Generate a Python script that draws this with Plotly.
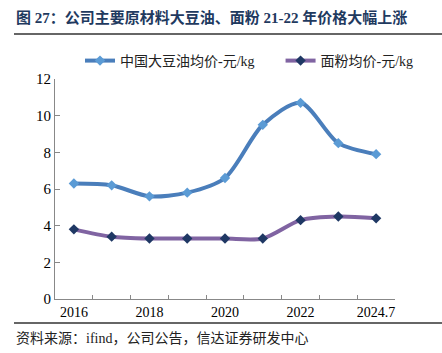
import plotly.graph_objects as go

categories = ["2016", "2017", "2018", "2019", "2020", "2021", "2022", "2023", "2024.7"]
tick_labels = ["2016", "", "2018", "", "2020", "", "2022", "", "2024.7"]
soybean_oil = [6.3, 6.2, 5.6, 5.8, 6.6, 9.5, 10.7, 8.5, 7.9]
flour = [3.8, 3.4, 3.3, 3.3, 3.3, 3.3, 4.3, 4.5, 4.4]
series_names = ["中国大豆油均价-元/kg", "面粉均价-元/kg"]

serif = "Liberation Serif, Noto Sans CJK SC"

W, H = 442, 353
l, r, t, b = 55, 47, 79, 54
pw, ph = W - l - r, H - t - b


def px(x):
    return (x - l) / pw


def py(y):
    return (H - b - y) / ph


fig = go.Figure()
fig.add_trace(go.Scatter(
    x=categories, y=soybean_oil, name=series_names[0] + "\u00a0" * 6,
    mode="lines+markers", line=dict(color="#4A7EBB", width=4, shape="spline", smoothing=0.8),
    marker=dict(symbol="diamond", size=8, color="#5B9BD5"),
))
fig.add_trace(go.Scatter(
    x=categories, y=flour, name=series_names[1],
    mode="lines+markers", line=dict(color="#8064A2", width=4, shape="spline", smoothing=0.8),
    marker=dict(symbol="diamond", size=8, color="#1F3864"),
))

fig.update_layout(
    width=W, height=H,
    margin=dict(l=l, r=r, t=t, b=b),
    paper_bgcolor="white", plot_bgcolor="white",
    font=dict(family=serif, size=14, color="#000000"),
    showlegend=True,
    legend=dict(orientation="h", x=px(80), y=py(45), xref="paper", yref="paper",
                xanchor="left", yanchor="top", font=dict(family=serif, size=14, color="#222"),
                bgcolor="rgba(0,0,0,0)", itemwidth=30, tracegroupgap=0),
    xaxis=dict(
        type="category", tickmode="array", tickvals=categories, ticktext=tick_labels,
        tickson="boundaries", ticks="inside", ticklen=4, tickcolor="#888", tickangle=0,
        showline=True, linecolor="#888", linewidth=1, showgrid=False,
        tickfont=dict(family=serif, size=14), range=[-0.5, 8.5],
    ),
    yaxis=dict(
        range=[0, 12], dtick=2, ticks="inside", ticklen=5, tickcolor="#888",
        showline=True, linecolor="#888", linewidth=1, showgrid=False, zeroline=False,
        tickfont=dict(family=serif, size=15),
    ),
)
fig.add_annotation(text="<b>图 27：公司主要原材料大豆油、面粉 21-22 年价格大幅上涨</b>",
                   x=px(14), y=py(18), xref="paper", yref="paper", showarrow=False,
                   xanchor="left", yanchor="middle",
                   font=dict(family=serif, size=15, color="#1F3A5F"))
fig.add_annotation(text="资料来源：ifind，公司公告，信达证券研发中心",
                   x=px(14), y=py(338), xref="paper", yref="paper", showarrow=False,
                   xanchor="left", yanchor="middle",
                   font=dict(family=serif, size=14, color="#222"))
fig.add_shape(type="line", xref="paper", yref="paper", x0=px(14), x1=px(442), y0=py(34), y1=py(34),
              line=dict(color="#333", width=1.3))
fig.add_shape(type="line", xref="paper", yref="paper", x0=px(14), x1=px(442), y0=py(323), y1=py(323),
              line=dict(color="#333", width=1.3))

fig.write_html("out.html")
